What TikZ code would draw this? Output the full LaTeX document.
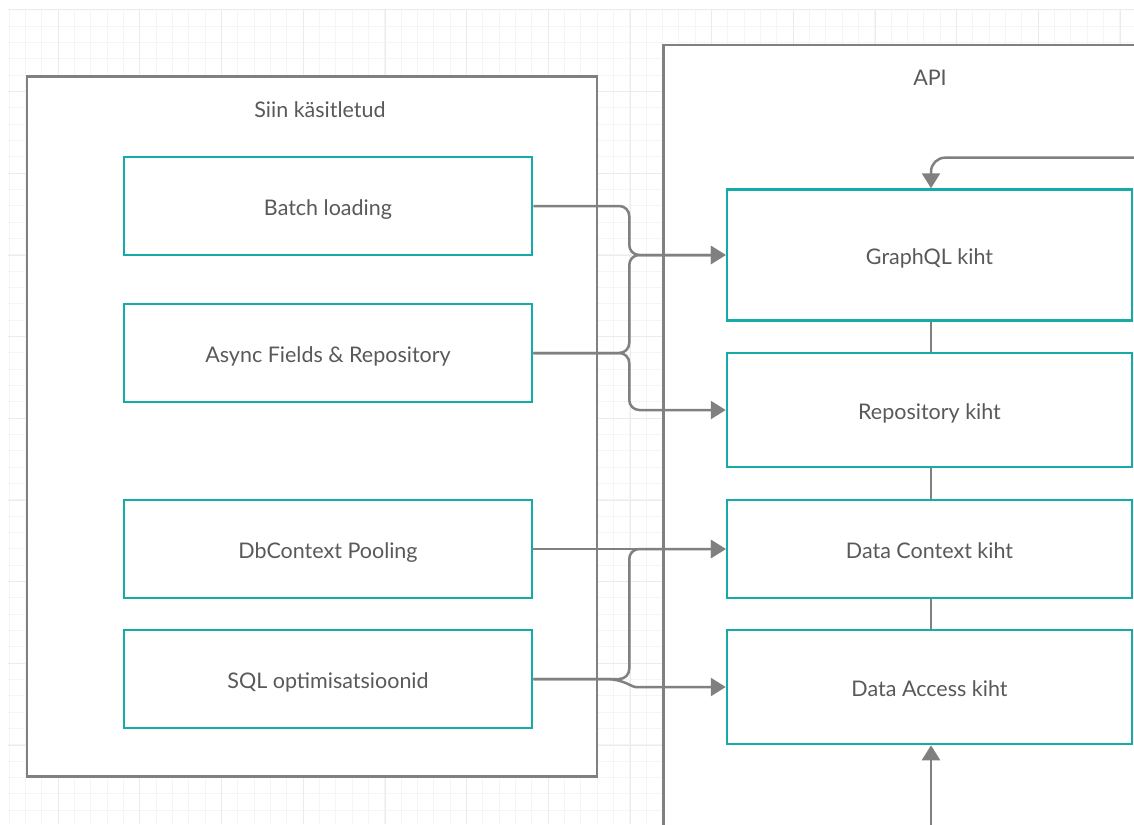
\documentclass[tikz,border=0pt]{standalone}
\usepackage{fontspec}
\setmainfont{Lato}
\usetikzlibrary{arrows.meta}
\definecolor{tealb}{HTML}{14ABA8}
\definecolor{linegray}{HTML}{808080}
\definecolor{txtgray}{HTML}{595959}
\definecolor{gmin}{HTML}{F5F5F5}
\definecolor{gmaj}{HTML}{EBEBEB}
\tikzset{
  container/.style={draw=linegray, line width=2.5pt, fill=white, inner sep=0pt},
  tbox/.style={draw=tealb, line width=2.5pt, fill=white, inner sep=0pt, text=txtgray, font=\fontsize{21.5}{24}\selectfont, text height=19pt, text depth=0pt},
  title/.style={text=txtgray, font=\fontsize{21.5}{24}\selectfont, inner sep=0pt},
  conn/.style={draw=linegray, line width=2.5pt, -{Triangle[length=15pt,width=18pt]}, rounded corners=10pt},
  link/.style={draw=linegray, line width=2.5pt},
  minorgrid/.style={draw=gmin, line width=1pt},
  majorgrid/.style={draw=gmaj, line width=1pt}
}
\begin{document}
\begin{tikzpicture}[x=1pt,y=-1pt]
\clip (0,0) rectangle (1134,824);
\fill[white] (0,0) rectangle (1134,824);
% background grid
\foreach \i in {0,...,69} {
  \draw[minorgrid] ({9.33+16.333*\i},10) -- ({9.33+16.333*\i},824);
}
\foreach \i in {0,...,50} {
  \draw[minorgrid] (8,{10+16.333*\i}) -- (1134,{10+16.333*\i});
}
\foreach \i in {0,...,13} {
  \draw[majorgrid] ({58.33+81.667*\i},10) -- ({58.33+81.667*\i},824);
}
\foreach \i in {0,...,10} {
  \draw[majorgrid] (8,{10+81.667*\i}) -- (1134,{10+81.667*\i});
}
% containers
\node[container, minimum width=570pt, minimum height=700pt] (left) at (312,426.7) {};
\node[container, minimum width=600pt, minimum height=900pt, anchor=north west] (api) at (662,44) {};
\node[title] (lefttitle) at (320,110) {Siin käsitletud};
\node[title] (apititle) at (930,78) {API};
% left boxes
\node[tbox, minimum width=408pt, minimum height=98pt] (batch) at (328,206) {Batch loading};
\node[tbox, minimum width=408pt, minimum height=98pt] (async) at (328,353) {Async Fields \& Repository};
\node[tbox, minimum width=408pt, minimum height=98pt] (pool) at (328,549) {DbContext Pooling};
\node[tbox, minimum width=408pt, minimum height=98pt] (sql) at (328,679) {SQL optimisatsioonid};
% right boxes
\node[tbox, minimum width=405pt, minimum height=131pt] (gql) at (929.5,255) {GraphQL kiht};
\node[tbox, minimum width=405pt, minimum height=114pt] (repo) at (929.5,410) {Repository kiht};
\node[tbox, minimum width=405pt, minimum height=98pt] (dctx) at (929.5,549) {Data Context kiht};
\node[tbox, minimum width=405pt, minimum height=114pt] (dacc) at (929.5,687) {Data Access kiht};
% links between layers
\draw[link] ([xshift=1.5pt]gql.south) -- ([xshift=1.5pt]repo.north);
\draw[link] ([xshift=1.5pt]repo.south) -- ([xshift=1.5pt]dctx.north);
\draw[link] ([xshift=1.5pt]dctx.south) -- ([xshift=1.5pt]dacc.north);
% connectors
\draw[conn] (batch.east) -- ++(96,0) |- (gql.west);
\draw[conn] (async.east) -- ++(96,0) |- (gql.west);
\draw[conn] (async.east) -- ++(96,0) |- (repo.west);
\draw[conn] (pool.east) -- (dctx.west);
\draw[conn] (sql.east) -- ++(96,0) |- (dctx.west);
\draw[conn] (sql.east) -- ++(84,0) to[out=-25,in=180] ++(28,8) -- (dacc.west);
\coordinate (topin) at (1140,157.7);
\coordinate (botin) at (931,830);
\draw[conn, rounded corners=14pt] (topin) -| ([xshift=1.5pt]gql.north);
\draw[conn] (botin) -- ([xshift=1.5pt]dacc.south);
\end{tikzpicture}
\end{document}
